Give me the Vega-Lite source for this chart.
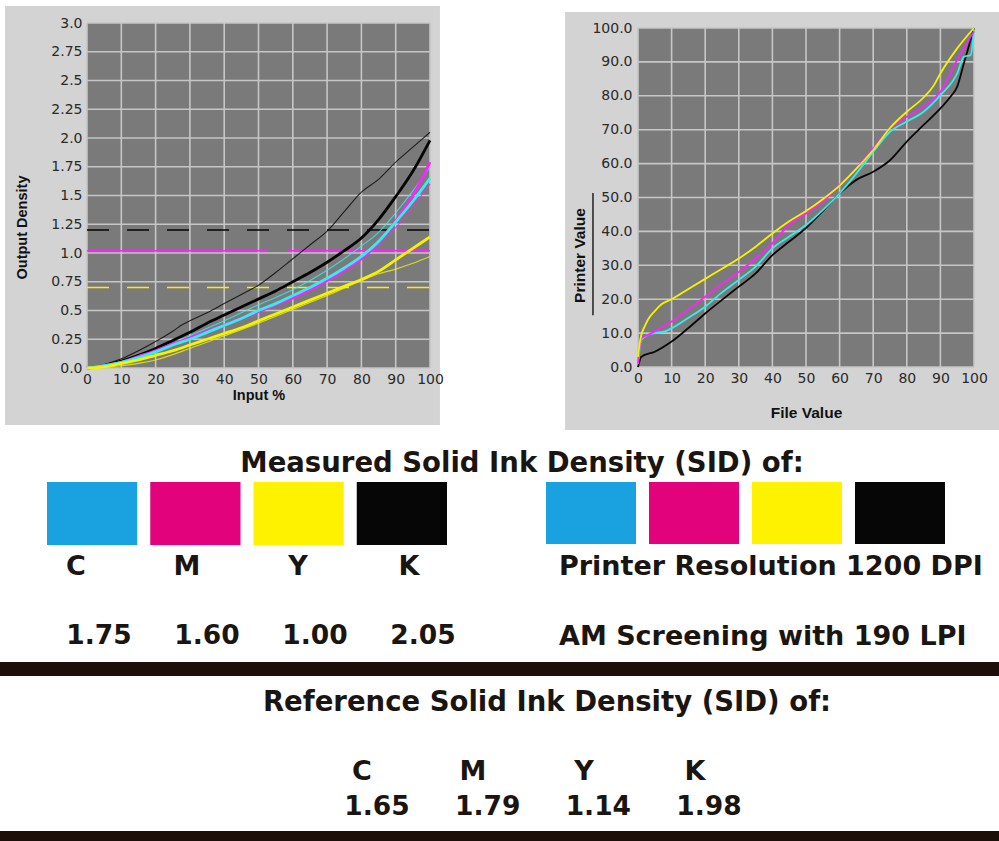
{
  "$schema": "https://vega.github.io/schema/vega-lite/v6.json",
  "width": 999,
  "height": 841,
  "autosize": "none",
  "padding": 0,
  "background": "white",
  "config": {
    "view": {"stroke": null},
    "axis": {"labelFont": "DejaVu Sans", "labelFontSize": 14, "labelColor": "#2a2a2a", "titleFont": "Liberation Sans", "titleFontWeight": "bold", "titleColor": "#111111"}
  },
  "datasets": {
    "decile": [{"v":0},{"v":10},{"v":20},{"v":30},{"v":40},{"v":50},{"v":60},{"v":70},{"v":80},{"v":90},{"v":100}],
    "quarter": [{"v":0},{"v":0.25},{"v":0.5},{"v":0.75},{"v":1},{"v":1.25},{"v":1.5},{"v":1.75},{"v":2},{"v":2.25},{"v":2.5},{"v":2.75},{"v":3}],
    "levels": [{"ink":"K","level":1.2},{"ink":"M","level":1.02},{"ink":"Y","level":0.7}],
    "tone": [
      {"ink":"K","kind":"reference","input":0,"density":0},{"ink":"K","kind":"reference","input":5,"density":0.02},{"ink":"K","kind":"reference","input":10,"density":0.06},{"ink":"K","kind":"reference","input":15,"density":0.11},{"ink":"K","kind":"reference","input":20,"density":0.17},{"ink":"K","kind":"reference","input":25,"density":0.24},{"ink":"K","kind":"reference","input":30,"density":0.31},{"ink":"K","kind":"reference","input":35,"density":0.39},{"ink":"K","kind":"reference","input":40,"density":0.46},{"ink":"K","kind":"reference","input":45,"density":0.53},{"ink":"K","kind":"reference","input":50,"density":0.6},{"ink":"K","kind":"reference","input":55,"density":0.67},{"ink":"K","kind":"reference","input":60,"density":0.75},{"ink":"K","kind":"reference","input":65,"density":0.83},{"ink":"K","kind":"reference","input":70,"density":0.92},{"ink":"K","kind":"reference","input":75,"density":1.02},{"ink":"K","kind":"reference","input":80,"density":1.13},{"ink":"K","kind":"reference","input":85,"density":1.29},{"ink":"K","kind":"reference","input":90,"density":1.49},{"ink":"K","kind":"reference","input":95,"density":1.71},{"ink":"K","kind":"reference","input":100,"density":1.98},
      {"ink":"M","kind":"reference","input":0,"density":0},{"ink":"M","kind":"reference","input":5,"density":0.02},{"ink":"M","kind":"reference","input":10,"density":0.05},{"ink":"M","kind":"reference","input":15,"density":0.1},{"ink":"M","kind":"reference","input":20,"density":0.15},{"ink":"M","kind":"reference","input":25,"density":0.21},{"ink":"M","kind":"reference","input":30,"density":0.26},{"ink":"M","kind":"reference","input":35,"density":0.32},{"ink":"M","kind":"reference","input":40,"density":0.37},{"ink":"M","kind":"reference","input":45,"density":0.43},{"ink":"M","kind":"reference","input":50,"density":0.49},{"ink":"M","kind":"reference","input":55,"density":0.55},{"ink":"M","kind":"reference","input":60,"density":0.61},{"ink":"M","kind":"reference","input":65,"density":0.68},{"ink":"M","kind":"reference","input":70,"density":0.76},{"ink":"M","kind":"reference","input":75,"density":0.85},{"ink":"M","kind":"reference","input":80,"density":0.95},{"ink":"M","kind":"reference","input":85,"density":1.09},{"ink":"M","kind":"reference","input":90,"density":1.28},{"ink":"M","kind":"reference","input":95,"density":1.5},{"ink":"M","kind":"reference","input":100,"density":1.79},
      {"ink":"C","kind":"reference","input":0,"density":0},{"ink":"C","kind":"reference","input":5,"density":0.02},{"ink":"C","kind":"reference","input":10,"density":0.05},{"ink":"C","kind":"reference","input":15,"density":0.09},{"ink":"C","kind":"reference","input":20,"density":0.14},{"ink":"C","kind":"reference","input":25,"density":0.2},{"ink":"C","kind":"reference","input":30,"density":0.25},{"ink":"C","kind":"reference","input":35,"density":0.31},{"ink":"C","kind":"reference","input":40,"density":0.37},{"ink":"C","kind":"reference","input":45,"density":0.43},{"ink":"C","kind":"reference","input":50,"density":0.5},{"ink":"C","kind":"reference","input":55,"density":0.56},{"ink":"C","kind":"reference","input":60,"density":0.63},{"ink":"C","kind":"reference","input":65,"density":0.7},{"ink":"C","kind":"reference","input":70,"density":0.78},{"ink":"C","kind":"reference","input":75,"density":0.87},{"ink":"C","kind":"reference","input":80,"density":0.97},{"ink":"C","kind":"reference","input":85,"density":1.1},{"ink":"C","kind":"reference","input":90,"density":1.27},{"ink":"C","kind":"reference","input":95,"density":1.45},{"ink":"C","kind":"reference","input":100,"density":1.65},
      {"ink":"Y","kind":"reference","input":0,"density":0},{"ink":"Y","kind":"reference","input":5,"density":0.01},{"ink":"Y","kind":"reference","input":10,"density":0.04},{"ink":"Y","kind":"reference","input":15,"density":0.07},{"ink":"Y","kind":"reference","input":20,"density":0.11},{"ink":"Y","kind":"reference","input":25,"density":0.15},{"ink":"Y","kind":"reference","input":30,"density":0.2},{"ink":"Y","kind":"reference","input":35,"density":0.25},{"ink":"Y","kind":"reference","input":40,"density":0.3},{"ink":"Y","kind":"reference","input":45,"density":0.35},{"ink":"Y","kind":"reference","input":50,"density":0.41},{"ink":"Y","kind":"reference","input":55,"density":0.47},{"ink":"Y","kind":"reference","input":60,"density":0.53},{"ink":"Y","kind":"reference","input":65,"density":0.59},{"ink":"Y","kind":"reference","input":70,"density":0.65},{"ink":"Y","kind":"reference","input":75,"density":0.71},{"ink":"Y","kind":"reference","input":80,"density":0.77},{"ink":"Y","kind":"reference","input":85,"density":0.84},{"ink":"Y","kind":"reference","input":90,"density":0.94},{"ink":"Y","kind":"reference","input":95,"density":1.04},{"ink":"Y","kind":"reference","input":100,"density":1.14},
      {"ink":"K","kind":"measured","input":0,"density":0},{"ink":"K","kind":"measured","input":5,"density":0.03},{"ink":"K","kind":"measured","input":10,"density":0.08},{"ink":"K","kind":"measured","input":15,"density":0.15},{"ink":"K","kind":"measured","input":20,"density":0.23},{"ink":"K","kind":"measured","input":25,"density":0.32},{"ink":"K","kind":"measured","input":28,"density":0.38},{"ink":"K","kind":"measured","input":30,"density":0.41},{"ink":"K","kind":"measured","input":35,"density":0.48},{"ink":"K","kind":"measured","input":40,"density":0.56},{"ink":"K","kind":"measured","input":45,"density":0.64},{"ink":"K","kind":"measured","input":50,"density":0.72},{"ink":"K","kind":"measured","input":55,"density":0.83},{"ink":"K","kind":"measured","input":60,"density":0.95},{"ink":"K","kind":"measured","input":65,"density":1.07},{"ink":"K","kind":"measured","input":70,"density":1.19},{"ink":"K","kind":"measured","input":75,"density":1.36},{"ink":"K","kind":"measured","input":80,"density":1.53},{"ink":"K","kind":"measured","input":85,"density":1.64},{"ink":"K","kind":"measured","input":90,"density":1.79},{"ink":"K","kind":"measured","input":95,"density":1.92},{"ink":"K","kind":"measured","input":100,"density":2.05},
      {"ink":"C","kind":"measured","input":0,"density":0},{"ink":"C","kind":"measured","input":10,"density":0.05},{"ink":"C","kind":"measured","input":20,"density":0.15},{"ink":"C","kind":"measured","input":30,"density":0.28},{"ink":"C","kind":"measured","input":40,"density":0.41},{"ink":"C","kind":"measured","input":50,"density":0.55},{"ink":"C","kind":"measured","input":60,"density":0.68},{"ink":"C","kind":"measured","input":70,"density":0.85},{"ink":"C","kind":"measured","input":80,"density":1.06},{"ink":"C","kind":"measured","input":85,"density":1.18},{"ink":"C","kind":"measured","input":90,"density":1.35},{"ink":"C","kind":"measured","input":95,"density":1.54},{"ink":"C","kind":"measured","input":100,"density":1.75},
      {"ink":"M","kind":"measured","input":0,"density":0},{"ink":"M","kind":"measured","input":10,"density":0.06},{"ink":"M","kind":"measured","input":20,"density":0.15},{"ink":"M","kind":"measured","input":30,"density":0.27},{"ink":"M","kind":"measured","input":40,"density":0.38},{"ink":"M","kind":"measured","input":50,"density":0.5},{"ink":"M","kind":"measured","input":60,"density":0.62},{"ink":"M","kind":"measured","input":70,"density":0.77},{"ink":"M","kind":"measured","input":80,"density":0.95},{"ink":"M","kind":"measured","input":85,"density":1.07},{"ink":"M","kind":"measured","input":90,"density":1.22},{"ink":"M","kind":"measured","input":95,"density":1.4},{"ink":"M","kind":"measured","input":100,"density":1.6},
      {"ink":"Y","kind":"measured","input":0,"density":0},{"ink":"Y","kind":"measured","input":10,"density":0.02},{"ink":"Y","kind":"measured","input":15,"density":0.04},{"ink":"Y","kind":"measured","input":20,"density":0.07},{"ink":"Y","kind":"measured","input":30,"density":0.17},{"ink":"Y","kind":"measured","input":40,"density":0.28},{"ink":"Y","kind":"measured","input":50,"density":0.39},{"ink":"Y","kind":"measured","input":60,"density":0.51},{"ink":"Y","kind":"measured","input":70,"density":0.63},{"ink":"Y","kind":"measured","input":80,"density":0.76},{"ink":"Y","kind":"measured","input":85,"density":0.82},{"ink":"Y","kind":"measured","input":90,"density":0.86},{"ink":"Y","kind":"measured","input":95,"density":0.91},{"ink":"Y","kind":"measured","input":100,"density":0.97}
    ],
    "linearization": [
      {"ink":"K","file":0,"printer":0},{"ink":"K","file":1,"printer":3},{"ink":"K","file":5,"printer":4.5},{"ink":"K","file":10,"printer":7.5},{"ink":"K","file":15,"printer":11.5},{"ink":"K","file":20,"printer":15.8},{"ink":"K","file":25,"printer":19.8},{"ink":"K","file":30,"printer":23.7},{"ink":"K","file":35,"printer":27.6},{"ink":"K","file":40,"printer":33},{"ink":"K","file":45,"printer":37},{"ink":"K","file":50,"printer":41},{"ink":"K","file":55,"printer":46},{"ink":"K","file":60,"printer":51.2},{"ink":"K","file":65,"printer":55.2},{"ink":"K","file":70,"printer":57.6},{"ink":"K","file":75,"printer":61},{"ink":"K","file":80,"printer":66.5},{"ink":"K","file":85,"printer":71.4},{"ink":"K","file":90,"printer":76.3},{"ink":"K","file":93,"printer":79.7},{"ink":"K","file":95,"printer":82.7},{"ink":"K","file":97,"printer":89.6},{"ink":"K","file":99,"printer":96.5},{"ink":"K","file":100,"printer":100},
      {"ink":"C","file":0,"printer":1},{"ink":"C","file":1,"printer":8},{"ink":"C","file":3,"printer":9.5},{"ink":"C","file":5,"printer":10},{"ink":"C","file":8,"printer":10.5},{"ink":"C","file":10,"printer":11.4},{"ink":"C","file":15,"printer":14.5},{"ink":"C","file":20,"printer":17.8},{"ink":"C","file":25,"printer":22},{"ink":"C","file":30,"printer":25.7},{"ink":"C","file":35,"printer":29.6},{"ink":"C","file":40,"printer":35},{"ink":"C","file":45,"printer":38.5},{"ink":"C","file":50,"printer":41.9},{"ink":"C","file":55,"printer":46.3},{"ink":"C","file":60,"printer":51.2},{"ink":"C","file":65,"printer":57.1},{"ink":"C","file":70,"printer":63.5},{"ink":"C","file":75,"printer":69.4},{"ink":"C","file":80,"printer":72.4},{"ink":"C","file":85,"printer":75.3},{"ink":"C","file":90,"printer":80.2},{"ink":"C","file":95,"printer":86.6},{"ink":"C","file":97,"printer":91.5},{"ink":"C","file":99,"printer":92},{"ink":"C","file":100,"printer":99.5},
      {"ink":"M","file":0,"printer":1},{"ink":"M","file":0.5,"printer":6},{"ink":"M","file":1,"printer":8.5},{"ink":"M","file":3,"printer":9.5},{"ink":"M","file":5,"printer":10.5},{"ink":"M","file":10,"printer":13.4},{"ink":"M","file":15,"printer":17},{"ink":"M","file":20,"printer":20.7},{"ink":"M","file":25,"printer":24.5},{"ink":"M","file":30,"printer":28},{"ink":"M","file":35,"printer":32},{"ink":"M","file":40,"printer":36.5},{"ink":"M","file":45,"printer":42},{"ink":"M","file":50,"printer":45.3},{"ink":"M","file":55,"printer":48.8},{"ink":"M","file":60,"printer":53.7},{"ink":"M","file":65,"printer":58.6},{"ink":"M","file":70,"printer":64.5},{"ink":"M","file":75,"printer":70.4},{"ink":"M","file":80,"printer":73.8},{"ink":"M","file":85,"printer":76.8},{"ink":"M","file":90,"printer":81.2},{"ink":"M","file":95,"printer":90.6},{"ink":"M","file":100,"printer":99},
      {"ink":"Y","file":0,"printer":3},{"ink":"Y","file":0.5,"printer":7},{"ink":"Y","file":1,"printer":9.5},{"ink":"Y","file":2,"printer":12},{"ink":"Y","file":3,"printer":14},{"ink":"Y","file":5,"printer":16.5},{"ink":"Y","file":7,"printer":18.5},{"ink":"Y","file":10,"printer":20},{"ink":"Y","file":15,"printer":23},{"ink":"Y","file":20,"printer":26},{"ink":"Y","file":25,"printer":29},{"ink":"Y","file":30,"printer":32},{"ink":"Y","file":35,"printer":35.5},{"ink":"Y","file":40,"printer":39.4},{"ink":"Y","file":45,"printer":43},{"ink":"Y","file":50,"printer":46},{"ink":"Y","file":55,"printer":49.5},{"ink":"Y","file":60,"printer":53.5},{"ink":"Y","file":65,"printer":58.5},{"ink":"Y","file":70,"printer":64},{"ink":"Y","file":75,"printer":70.5},{"ink":"Y","file":80,"printer":75.3},{"ink":"Y","file":85,"printer":79.5},{"ink":"Y","file":88,"printer":83},{"ink":"Y","file":90,"printer":86.6},{"ink":"Y","file":95,"printer":94},{"ink":"Y","file":100,"printer":100}
    ],
    "inks": [
      {"ink":"C","measured":1.75,"reference":1.65},
      {"ink":"M","measured":1.6,"reference":1.79},
      {"ink":"Y","measured":1.0,"reference":1.14},
      {"ink":"K","measured":2.05,"reference":1.98}
    ],
    "swatches": [
      {"set":"A","ink":"C"},{"set":"A","ink":"M"},{"set":"A","ink":"Y"},{"set":"A","ink":"K"},
      {"set":"B","ink":"C"},{"set":"B","ink":"M"},{"set":"B","ink":"Y"},{"set":"B","ink":"K"}
    ],
    "headings": [
      {"heading":"Measured Solid Ink Density (SID) of:"},
      {"heading":"Reference Solid Ink Density (SID) of:"}
    ],
    "settings": [
      {"setting":"Printer Resolution 1200 DPI"},
      {"setting":"AM Screening with 190 LPI"}
    ],
    "bars": [{"bar":"upper"},{"bar":"lower"}]
  },
  "layer": [
    {
      "layer": [
        {
          "data": {"values": [{}]},
          "mark": {"type": "rect", "fill": "#d3d3d3"},
          "encoding": {
            "x": {"datum": -23.9, "type": "quantitative", "scale": {"domain": [0, 100], "range": [87, 430], "nice": false, "zero": false}},
            "x2": {"datum": 102.9},
            "y": {"datum": -0.496, "type": "quantitative", "scale": {"domain": [0, 3], "range": [368, 23], "nice": false, "zero": false}},
            "y2": {"datum": 3.148}
          }
        },
        {
          "data": {"values": [{}]},
          "mark": {"type": "rect", "fill": "#7a7a7a"},
          "encoding": {
            "x": {"datum": 0, "type": "quantitative"},
            "x2": {"datum": 100},
            "y": {"datum": 0, "type": "quantitative"},
            "y2": {"datum": 3}
          }
        },
        {
          "data": {"name": "decile"},
          "mark": {"type": "rule", "color": "#c6c6c6", "strokeWidth": 1.6},
          "encoding": {
            "x": {"field": "v", "type": "quantitative"},
            "y": {"datum": 0, "type": "quantitative"},
            "y2": {"datum": 3}
          }
        },
        {
          "data": {"name": "quarter"},
          "mark": {"type": "rule", "color": "#c6c6c6", "strokeWidth": 1.6},
          "encoding": {
            "y": {"field": "v", "type": "quantitative"},
            "x": {"datum": 0, "type": "quantitative"},
            "x2": {"datum": 100}
          }
        },
        {
          "data": {"name": "levels"},
          "mark": {"type": "rule", "strokeWidth": 1.6},
          "encoding": {
            "y": {"field": "level", "type": "quantitative"},
            "x": {"datum": 0, "type": "quantitative"},
            "x2": {"datum": 100},
            "color": {"field": "ink", "type": "nominal", "scale": {"domain": ["C", "M", "Y", "K"], "range": ["#2ef0f0", "#ff22ff", "#f4f400", "#050505"]}, "legend": null},
            "strokeDash": {"field": "ink", "type": "nominal", "scale": {"domain": ["K", "M", "Y"], "range": [[22, 18], [180, 20], [22, 18]]}, "legend": null}
          }
        },
        {
          "data": {"name": "tone"},
          "transform": [{"filter": "datum.kind == 'measured'"}],
          "mark": {"type": "line", "strokeWidth": 1.1, "interpolate": "monotone", "opacity": 0.8},
          "encoding": {
            "x": {"field": "input", "type": "quantitative"},
            "y": {"field": "density", "type": "quantitative"},
            "color": {"field": "ink", "type": "nominal", "legend": null}
          }
        },
        {
          "data": {"name": "tone"},
          "transform": [{"filter": "datum.kind == 'reference'"}],
          "mark": {"type": "line", "strokeWidth": 2.8, "interpolate": "monotone"},
          "encoding": {
            "x": {"field": "input", "type": "quantitative",
              "axis": {"orient": "bottom", "offset": -473, "zindex": 1, "values": [0,10,20,30,40,50,60,70,80,90,100], "format": "d", "labelFontSize": 14, "grid": false, "domain": false, "ticks": false, "tickSize": 0, "labelPadding": 4, "labelFlush": false, "labelOverlap": false, "title": "Input %", "titleFontSize": 14.5, "titleY": 27, "titleBaseline": "middle"}},
            "y": {"field": "density", "type": "quantitative",
              "axis": {"orient": "left", "offset": -87, "zindex": 1, "values": [0,0.25,0.5,0.75,1,1.25,1.5,1.75,2,2.25,2.5,2.75,3], "labelExpr": "datum.value % 1 == 0 ? format(datum.value, '.1f') : toString(datum.value)", "labelFontSize": 14, "grid": false, "domain": false, "ticks": false, "tickSize": 0, "labelPadding": 5, "labelFlush": false, "labelOverlap": false, "title": "Output Density", "titleFontSize": 14.5, "titleX": -65, "titleY": 227, "titleBaseline": "middle"}},
            "color": {"field": "ink", "type": "nominal", "legend": null}
          }
        }
      ]
    },
    {
      "layer": [
        {
          "data": {"values": [{}]},
          "mark": {"type": "rect", "fill": "#d3d3d3"},
          "encoding": {
            "x": {"datum": -21.7, "type": "quantitative", "scale": {"domain": [0, 100], "range": [638, 974], "nice": false, "zero": false}},
            "x2": {"datum": 108},
            "y": {"datum": -18.6, "type": "quantitative", "scale": {"domain": [0, 100], "range": [367, 28], "nice": false, "zero": false}},
            "y2": {"datum": 104.7}
          }
        },
        {
          "data": {"values": [{}]},
          "mark": {"type": "rect", "fill": "#7a7a7a"},
          "encoding": {
            "x": {"datum": 0, "type": "quantitative"},
            "x2": {"datum": 100},
            "y": {"datum": 0, "type": "quantitative"},
            "y2": {"datum": 100}
          }
        },
        {
          "data": {"name": "decile"},
          "mark": {"type": "rule", "color": "#c6c6c6", "strokeWidth": 1.6},
          "encoding": {
            "x": {"field": "v", "type": "quantitative"},
            "y": {"datum": 0, "type": "quantitative"},
            "y2": {"datum": 100}
          }
        },
        {
          "data": {"name": "decile"},
          "mark": {"type": "rule", "color": "#c6c6c6", "strokeWidth": 1.6},
          "encoding": {
            "y": {"field": "v", "type": "quantitative"},
            "x": {"datum": 0, "type": "quantitative"},
            "x2": {"datum": 100}
          }
        },
        {
          "data": {"values": [{}]},
          "mark": {"type": "rule", "color": "#222222", "strokeWidth": 1.5},
          "encoding": {
            "x": {"datum": -13.4, "type": "quantitative"},
            "y": {"datum": 15.3, "type": "quantitative"},
            "y2": {"datum": 51.3}
          }
        },
        {
          "data": {"name": "linearization"},
          "mark": {"type": "line", "strokeWidth": 1.8, "interpolate": "monotone"},
          "encoding": {
            "x": {"field": "file", "type": "quantitative",
              "axis": {"orient": "bottom", "offset": -474, "zindex": 1, "values": [0,10,20,30,40,50,60,70,80,90,100], "format": "d", "labelFontSize": 14, "grid": false, "domain": false, "ticks": false, "tickSize": 0, "labelPadding": 4, "labelFlush": false, "labelOverlap": false, "title": "File Value", "titleFontSize": 15.5, "titleY": 45, "titleBaseline": "middle"}},
            "y": {"field": "printer", "type": "quantitative",
              "axis": {"orient": "left", "offset": -638, "zindex": 1, "values": [0,10,20,30,40,50,60,70,80,90,100], "format": ".1f", "labelFontSize": 14, "grid": false, "domain": false, "ticks": false, "tickSize": 0, "labelPadding": 6, "labelFlush": false, "labelOverlap": false, "title": "Printer Value", "titleFontSize": 15.5, "titleX": -59, "titleY": 255, "titleBaseline": "middle"}},
            "color": {"field": "ink", "type": "nominal", "scale": {"domain": ["K", "C", "M", "Y"], "range": ["#080808", "#2ef0f0", "#ff22ff", "#f4f400"]}, "legend": null},
            "order": {"field": "file", "type": "quantitative"}
          }
        }
      ]
    },
    {
      "data": {"name": "bars"},
      "mark": {"type": "rect", "color": "#1c0f0a"},
      "encoding": {
        "y": {"field": "bar", "type": "nominal", "sort": null, "scale": {"type": "band", "range": [662, 845], "paddingInner": 0.917, "paddingOuter": 0}, "axis": null}
      }
    },
    {
      "data": {"name": "swatches"},
      "transform": [{"filter": "datum.set == 'A'"}],
      "mark": {"type": "rect"},
      "encoding": {
        "x": {"field": "ink", "type": "nominal", "sort": ["C", "M", "Y", "K"], "scale": {"type": "band", "range": [47, 447], "paddingInner": 0.126, "paddingOuter": 0}, "axis": null},
        "y": {"datum": "swatch", "type": "nominal", "scale": {"type": "band", "range": [482, 545], "paddingInner": 0, "paddingOuter": 0}, "axis": null},
        "color": {"field": "ink", "type": "nominal", "scale": {"domain": ["C", "M", "Y", "K"], "range": ["#19a1e0", "#e2037c", "#fff200", "#060606"]}, "legend": null}
      }
    },
    {
      "data": {"name": "swatches"},
      "transform": [{"filter": "datum.set == 'B'"}],
      "mark": {"type": "rect"},
      "encoding": {
        "x": {"field": "ink", "type": "nominal", "sort": ["C", "M", "Y", "K"], "scale": {"type": "band", "range": [546, 945], "paddingInner": 0.126, "paddingOuter": 0}, "axis": null},
        "y": {"datum": "swatch", "type": "nominal", "scale": {"type": "band", "range": [482, 544], "paddingInner": 0, "paddingOuter": 0}, "axis": null},
        "color": {"field": "ink", "type": "nominal", "scale": {"domain": ["C", "M", "Y", "K"], "range": ["#19a1e0", "#e2037c", "#fff200", "#060606"]}, "legend": null}
      }
    },
    {
      "data": {"name": "headings"},
      "mark": {"type": "text", "font": "DejaVu Sans", "fontWeight": "bold", "fontSize": 27.5, "color": "#1b1512", "align": "center", "baseline": "alphabetic"},
      "encoding": {
        "text": {"field": "heading"},
        "x": {"field": "heading", "type": "nominal", "sort": null, "scale": {"type": "point", "range": [522, 547], "padding": 0}, "axis": null},
        "y": {"field": "heading", "type": "nominal", "sort": null, "scale": {"type": "point", "range": [472, 711], "padding": 0}, "axis": null}
      }
    },
    {
      "data": {"name": "settings"},
      "mark": {"type": "text", "font": "DejaVu Sans", "fontWeight": "bold", "fontSize": 27, "color": "#1b1512", "align": "left", "baseline": "alphabetic"},
      "encoding": {
        "text": {"field": "setting"},
        "x": {"field": "setting", "type": "nominal", "sort": null, "scale": {"type": "point", "range": [559, 559], "padding": 0}, "axis": null},
        "y": {"field": "setting", "type": "nominal", "sort": null, "scale": {"type": "point", "range": [575, 645], "padding": 0}, "axis": null}
      }
    },
    {
      "data": {"name": "inks"},
      "mark": {"type": "text", "font": "DejaVu Sans", "fontWeight": "bold", "fontSize": 27, "color": "#1b1512", "align": "center", "baseline": "alphabetic"},
      "encoding": {
        "text": {"field": "ink"},
        "x": {"field": "ink", "type": "nominal", "sort": null, "scale": {"type": "point", "range": [76, 409], "padding": 0}, "axis": null},
        "y": {"datum": "letters", "type": "nominal", "scale": {"type": "point", "range": [575, 575], "padding": 0}, "axis": null}
      }
    },
    {
      "data": {"name": "inks"},
      "mark": {"type": "text", "font": "DejaVu Sans", "fontWeight": "bold", "fontSize": 26.5, "color": "#1b1512", "align": "center", "baseline": "alphabetic"},
      "encoding": {
        "text": {"field": "measured", "type": "quantitative", "format": ".2f"},
        "x": {"field": "ink", "type": "nominal", "sort": null, "scale": {"type": "point", "range": [99, 423], "padding": 0}, "axis": null},
        "y": {"datum": "values", "type": "nominal", "scale": {"type": "point", "range": [644, 644], "padding": 0}, "axis": null}
      }
    },
    {
      "data": {"name": "inks"},
      "mark": {"type": "text", "font": "DejaVu Sans", "fontWeight": "bold", "fontSize": 27, "color": "#1b1512", "align": "center", "baseline": "alphabetic"},
      "encoding": {
        "text": {"field": "ink"},
        "x": {"field": "ink", "type": "nominal", "sort": null, "scale": {"type": "point", "range": [362, 695], "padding": 0}, "axis": null},
        "y": {"datum": "letters", "type": "nominal", "scale": {"type": "point", "range": [780, 780], "padding": 0}, "axis": null}
      }
    },
    {
      "data": {"name": "inks"},
      "mark": {"type": "text", "font": "DejaVu Sans", "fontWeight": "bold", "fontSize": 26.5, "color": "#1b1512", "align": "center", "baseline": "alphabetic"},
      "encoding": {
        "text": {"field": "reference", "type": "quantitative", "format": ".2f"},
        "x": {"field": "ink", "type": "nominal", "sort": null, "scale": {"type": "point", "range": [377, 709], "padding": 0}, "axis": null},
        "y": {"datum": "values", "type": "nominal", "scale": {"type": "point", "range": [815, 815], "padding": 0}, "axis": null}
      }
    }
  ],
  "resolve": {
    "scale": {"x": "independent", "y": "independent", "color": "independent", "strokeDash": "independent"},
    "axis": {"x": "independent", "y": "independent"}
  }
}
